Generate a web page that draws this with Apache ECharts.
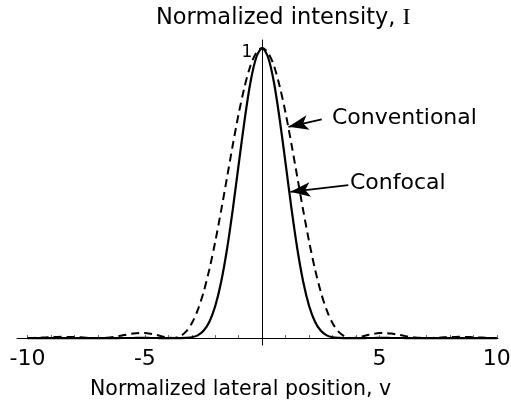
<!DOCTYPE html>
<html><head><meta charset="utf-8">
<script src="https://cdn.jsdelivr.net/npm/echarts@6/dist/echarts.min.js"></script>
<style>html,body{margin:0;padding:0;background:#fff}#c{width:511px;height:407px}</style>
</head><body><div id="c"></div>
<script>
// Normalized lateral position v
const positions = [-10,-9.75,-9.5,-9.25,-9,-8.75,-8.5,-8.25,-8,-7.75,-7.5,-7.25,-7,-6.75,-6.5,-6.25,-6,-5.75,-5.5,-5.25,-5,-4.75,-4.5,-4.25,-4,-3.75,-3.5,-3.25,-3,-2.75,-2.5,-2.25,-2,-1.75,-1.5,-1.25,-1,-0.75,-0.5,-0.25,0,0.25,0.5,0.75,1,1.25,1.5,1.75,2,2.25,2.5,2.75,3,3.25,3.5,3.75,4,4.25,4.5,4.75,5,5.25,5.5,5.75,6,6.25,6.5,6.75,7,7.25,7.5,7.75,8,8.25,8.5,8.75,9,9.25,9.5,9.75,10];
// Conventional (dashed) normalized intensity
const conventional = [0.0001,0.0005,0.0012,0.0021,0.0030,0.0037,0.0041,0.0039,0.0034,0.0024,0.0013,0.0004,0.0000,0.0006,0.0022,0.0049,0.0085,0.0122,0.0154,0.0172,0.0172,0.0148,0.0106,0.0052,0.0011,0.0003,0.0062,0.0220,0.0511,0.0960,0.1581,0.2376,0.3326,0.4397,0.5533,0.6674,0.7748,0.8671,0.9393,0.9841,1,0.9841,0.9393,0.8671,0.7748,0.6674,0.5533,0.4397,0.3326,0.2376,0.1581,0.0960,0.0511,0.0220,0.0062,0.0003,0.0011,0.0052,0.0106,0.0148,0.0172,0.0172,0.0154,0.0122,0.0085,0.0049,0.0022,0.0006,0.0000,0.0004,0.0013,0.0024,0.0034,0.0039,0.0041,0.0037,0.0030,0.0021,0.0012,0.0005,0.0001];
// Confocal (solid) normalized intensity
const confocal = [0,0,0,0,0,0,0,0,0,0,0,0,0,0,0,0,0.0001,0.0001,0.0002,0.0003,0.0003,0.0002,0.0001,0,0,0,0,0.0005,0.0026,0.0092,0.0250,0.0565,0.1106,0.1933,0.3061,0.4454,0.6003,0.7519,0.8823,0.9685,1,0.9685,0.8823,0.7519,0.6003,0.4454,0.3061,0.1933,0.1106,0.0565,0.0250,0.0092,0.0026,0.0005,0,0,0,0,0.0001,0.0002,0.0003,0.0003,0.0002,0.0001,0.0001,0,0,0,0,0,0,0,0,0,0,0,0,0,0,0,0];
const xTickLabels = [-10,-5,5,10];
const xMinorTicks = [-10,-9,-8,-7,-6,-5,-4,-3,-2,-1,1,2,3,4,5,6,7,8,9,10];
const yTickLabel = '1';
const titleTop = 'Normalized intensity, ';
const titleTopSymbol = 'I';
const titleBottom = 'Normalized lateral position, v';
const labelConventional = 'Conventional';
const labelConfocal = 'Confocal';

const chart = echarts.init(document.getElementById('c'), null, {renderer: 'canvas'});
const F = 'DejaVu Sans';
chart.setOption({
  animation: false,
  backgroundColor: '#fff',
  title: [
    {text: '{a|' + titleTop + '}{b|' + titleTopSymbol + '}', left: 156, top: 6, padding: 0,
     textStyle: {fontWeight: 'normal', rich: {a: {fontFamily: F, fontSize: 22.5, fontWeight: 'normal', color: '#000'}, b: {fontFamily: 'Liberation Serif', fontSize: 24, fontWeight: 'normal', color: '#000'}}}},
    {text: titleBottom, left: 90, top: 379, padding: 0,
     textStyle: {fontFamily: F, fontSize: 20.5, fontWeight: 'normal', color: '#000'}}
  ],
  grid: {left: 17, right: 13, top: 40, bottom: 62, containLabel: false, outerBoundsMode: 'none'},
  xAxis: {
    type: 'value', min: -10.45, max: 10.05,
    axisLine: {onZero: true, lineStyle: {color: '#000', width: 1}},
    axisTick: {show: true, inside: true, length: 3, customValues: xMinorTicks, lineStyle: {color: '#666', width: 1}},
    axisLabel: {customValues: xTickLabels, fontFamily: F, fontSize: 22, color: '#000', margin: 3},
    splitLine: {show: false}
  },
  yAxis: {
    type: 'value', min: -0.024, max: 1.028,
    axisLine: {show: true, onZero: true, lineStyle: {color: '#000', width: 1}},
    axisTick: {show: false},
    axisLabel: {show: false},
    splitLine: {show: false}
  },
  series: [
    {
      name: 'Conventional', type: 'line', smooth: 0.3, showSymbol: false, silent: true,
      data: positions.map((v, i) => [v, conventional[i]]),
      lineStyle: {color: '#000', width: 2, type: [8, 5]},
      markLine: {
        silent: true, animation: false,
        label: {show: false},
        lineStyle: {color: '#000', width: 1.8, type: 'solid'},
        data: [[{coord: [2.536, 0.754], symbol: 'none'}, {coord: [1.12, 0.7286], symbol: 'arrow', symbolSize: [11, 20]}]]
      },
      markPoint: {
        silent: true, animation: false,
        symbol: 'circle', symbolSize: 0,
        label: {show: true, position: 'right', distance: 0, formatter: labelConventional, fontFamily: F, fontSize: 22, color: '#000'},
        data: [{coord: [2.97, 0.7586]}]
      }
    },
    {
      name: 'Confocal', type: 'line', smooth: 0.3, showSymbol: false, silent: true,
      data: positions.map((v, i) => [v, confocal[i]]),
      lineStyle: {color: '#000', width: 2.2, type: 'solid'},
      markLine: {
        silent: true, animation: false,
        label: {show: false},
        lineStyle: {color: '#000', width: 1.8, type: 'solid'},
        data: [[{coord: [3.67, 0.5276], symbol: 'none'}, {coord: [1.2, 0.5045], symbol: 'arrow', symbolSize: [11, 20]}]]
      },
      markPoint: {
        silent: true, animation: false,
        symbol: 'circle', symbolSize: 0,
        label: {show: true, position: 'left', distance: 10, formatter: yTickLabel, fontFamily: F, fontSize: 17, color: '#000'},
        data: [{coord: [0, 0.985]}]
      }
    },
    {
      name: 'ConfocalLabel', type: 'line', data: [], silent: true,
      markPoint: {
        silent: true, animation: false,
        symbol: 'circle', symbolSize: 0,
        label: {show: true, position: 'right', distance: 0, formatter: labelConfocal, fontFamily: F, fontSize: 22, color: '#000'},
        data: [{coord: [3.74, 0.534]}]
      }
    }
  ]
});
</script>
</body></html>
